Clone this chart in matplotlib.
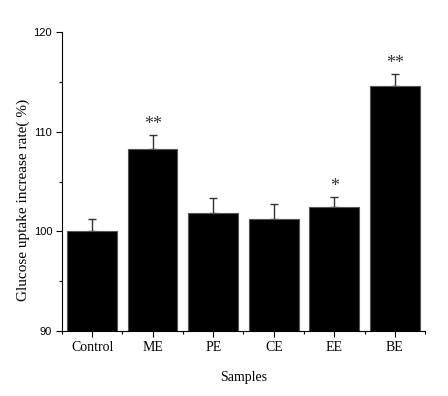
import matplotlib.pyplot as plt
import numpy as np
from matplotlib.ticker import MultipleLocator, FixedLocator

samples = ["Control", "ME", "PE", "CE", "EE", "BE"]
values = [100.0, 108.3, 101.8, 101.2, 102.4, 114.6]
errors = [1.2, 1.4, 1.6, 1.5, 1.1, 1.2]
marks = ["", "**", "", "", "*", "**"]

fig = plt.figure(figsize=(4.48, 3.96), dpi=100)
ax = fig.add_axes([0.138, 0.164, 0.811, 0.755])

x = np.arange(len(samples))
ax.bar(x, values, width=0.82, color="black", edgecolor="#555555", linewidth=0.8, zorder=2)
ax.errorbar(x, values, yerr=[np.zeros(len(errors)), errors], fmt="none",
            ecolor="#333333", elinewidth=1.0, capsize=3, capthick=1.0, zorder=1)

for xi, v, e, m in zip(x, values, errors, marks):
    if m:
        ax.text(xi, v + e + 1.05, m, ha="center", va="center", fontsize=13,
                family="Liberation Serif", color="#333333")

ax.set_ylim(90, 120)
ax.set_xlim(-0.5, 5.5)
ax.yaxis.set_major_locator(MultipleLocator(10))
ax.yaxis.set_minor_locator(MultipleLocator(5))
ax.set_xticks(x)
ax.set_xticklabels(samples, family="Liberation Serif", fontsize=10)
ax.xaxis.set_minor_locator(FixedLocator(np.arange(-0.5, 6, 1)))
for lab in ax.get_yticklabels():
    lab.set_family("Liberation Sans")
    lab.set_fontsize(8)
ax.tick_params(axis="both", which="major", direction="out", length=4, width=0.8)
ax.tick_params(axis="y", which="major", pad=3)
ax.tick_params(axis="both", which="minor", direction="out", length=2.5, width=0.8)

ax.spines["top"].set_visible(False)
ax.spines["right"].set_visible(False)
ax.set_xlabel("Samples", family="Liberation Serif", fontsize=10, labelpad=12)
ax.set_ylabel("Glucose uptake increase rate( %)", family="Liberation Serif", fontsize=11)
ax.yaxis.set_label_coords(-0.088, 0.438)

fig.savefig("out.png", dpi=100)
